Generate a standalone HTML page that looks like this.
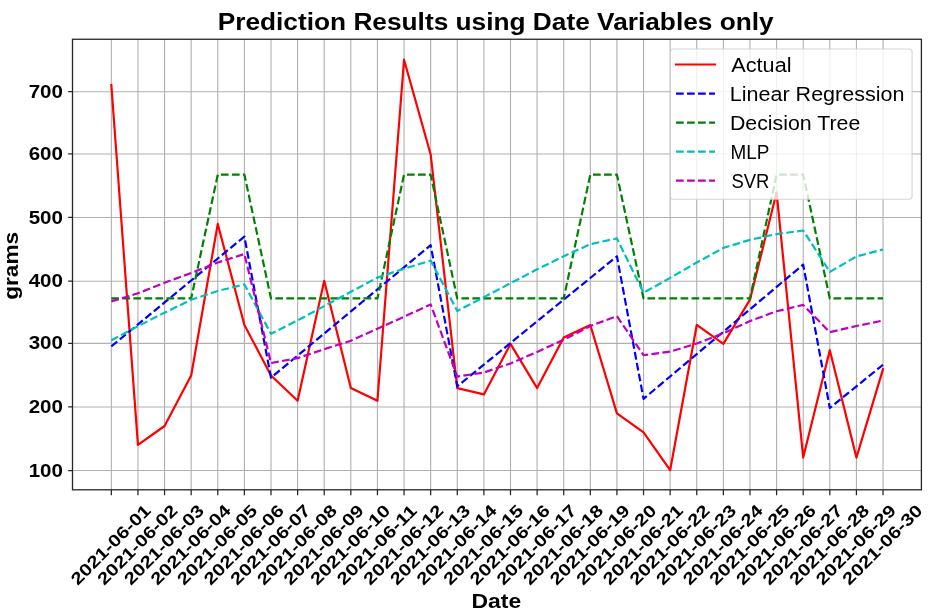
<!DOCTYPE html><html><head><meta charset="utf-8"><style>html,body{margin:0;padding:0;background:#fff;overflow:hidden}#w{width:948px;height:616px;will-change:transform}svg{display:block}</style></head><body><div id="w"><svg width="948" height="616" viewBox="0 0 948 616">
<rect x="0" y="0" width="948" height="616" fill="#fff"/>
<defs><clipPath id="ax"><rect x="72.5" y="39.25" width="848.9" height="450.55"/></clipPath></defs>
<path d="M111.34 39.25V489.8 M137.95 39.25V489.8 M164.56 39.25V489.8 M191.17 39.25V489.8 M217.78 39.25V489.8 M244.39 39.25V489.8 M271.00 39.25V489.8 M297.61 39.25V489.8 M324.22 39.25V489.8 M350.83 39.25V489.8 M377.44 39.25V489.8 M404.05 39.25V489.8 M430.66 39.25V489.8 M457.27 39.25V489.8 M483.88 39.25V489.8 M510.49 39.25V489.8 M537.10 39.25V489.8 M563.71 39.25V489.8 M590.32 39.25V489.8 M616.93 39.25V489.8 M643.54 39.25V489.8 M670.15 39.25V489.8 M696.76 39.25V489.8 M723.37 39.25V489.8 M749.98 39.25V489.8 M776.59 39.25V489.8 M803.20 39.25V489.8 M829.81 39.25V489.8 M856.42 39.25V489.8 M883.03 39.25V489.8 M72.5 470.53H921.4 M72.5 406.95H921.4 M72.5 343.36H921.4 M72.5 281.24H921.4 M72.5 217.46H921.4 M72.5 153.97H921.4 M72.5 91.73H921.4" stroke="#b0b0b0" stroke-width="1.11" fill="none"/>
<g clip-path="url(#ax)" fill="none" stroke-width="2.20" stroke-linejoin="round">
<polyline points="111.34,84.98 137.95,444.94 164.56,426.00 191.17,375.48 217.78,223.91 244.39,324.96 271.00,375.48 297.61,400.74 324.22,280.75 350.83,388.11 377.44,400.74 404.05,59.72 430.66,154.44 457.27,388.11 483.88,394.42 510.49,343.90 537.10,388.11 563.71,337.59 590.32,324.96 616.93,413.37 643.54,432.31 670.15,470.20 696.76,324.96 723.37,343.90 749.98,299.69 776.59,192.34 803.20,457.57 829.81,350.22 856.42,457.57 883.03,369.16" stroke="#ff0000" stroke-linecap="square"/>
<polyline points="111.34,346.43 137.95,324.45 164.56,302.47 191.17,280.50 217.78,258.52 244.39,236.54 271.00,377.69 297.61,355.61 324.22,333.52 350.83,311.44 377.44,289.36 404.05,267.28 430.66,245.19 457.27,386.34 483.88,364.67 510.49,343.00 537.10,321.32 563.71,299.65 590.32,277.98 616.93,256.31 643.54,398.84 670.15,376.47 696.76,354.09 723.37,331.71 749.98,309.34 776.59,286.96 803.20,264.58 829.81,408.00 856.42,386.37 883.03,364.74" stroke="#0000ff" stroke-dasharray="7.7,3.33"/>
<polyline points="111.34,298.43 137.95,298.43 164.56,298.43 191.17,298.43 217.78,174.65 244.39,174.65 271.00,298.43 297.61,298.43 324.22,298.43 350.83,298.43 377.44,298.43 404.05,174.65 430.66,174.65 457.27,298.43 483.88,298.43 510.49,298.43 537.10,298.43 563.71,298.43 590.32,174.65 616.93,174.65 643.54,298.43 670.15,298.43 696.76,298.43 723.37,298.43 749.98,298.43 776.59,174.65 803.20,174.65 829.81,298.43 856.42,298.43 883.03,298.43" stroke="#008000" stroke-dasharray="7.7,3.33"/>
<polyline points="111.34,340.30 137.95,326.22 164.56,312.64 191.17,299.82 217.78,290.92 244.39,284.41 271.00,333.80 297.61,320.41 324.22,306.14 350.83,291.80 377.44,277.59 404.05,268.69 430.66,260.60 457.27,310.94 483.88,297.11 510.49,283.28 537.10,269.32 563.71,256.31 590.32,244.12 616.93,238.44 643.54,292.75 670.15,277.91 696.76,262.50 723.37,247.91 749.98,239.83 776.59,234.08 803.20,230.48 829.81,271.91 856.42,256.50 883.03,249.49" stroke="#00bfbf" stroke-dasharray="7.7,3.33"/>
<polyline points="111.34,301.40 137.95,293.32 164.56,282.77 191.17,272.98 217.78,262.50 244.39,254.04 271.00,363.04 297.61,358.11 324.22,349.21 350.83,340.74 377.44,328.74 404.05,316.75 430.66,304.43 457.27,376.61 483.88,372.51 510.49,363.48 537.10,351.92 563.71,339.80 590.32,326.03 616.93,316.18 643.54,355.21 670.15,351.61 696.76,343.52 723.37,333.29 749.98,321.10 776.59,311.25 803.20,304.94 829.81,332.22 856.42,326.03 883.03,320.53" stroke="#bf00bf" stroke-dasharray="7.7,3.33"/>
</g>
<rect x="72.5" y="39.25" width="848.9" height="450.55" fill="none" stroke="#262626" stroke-width="1.3"/>
<path d="M111.34 489.8v5.4 M137.95 489.8v5.4 M164.56 489.8v5.4 M191.17 489.8v5.4 M217.78 489.8v5.4 M244.39 489.8v5.4 M271.00 489.8v5.4 M297.61 489.8v5.4 M324.22 489.8v5.4 M350.83 489.8v5.4 M377.44 489.8v5.4 M404.05 489.8v5.4 M430.66 489.8v5.4 M457.27 489.8v5.4 M483.88 489.8v5.4 M510.49 489.8v5.4 M537.10 489.8v5.4 M563.71 489.8v5.4 M590.32 489.8v5.4 M616.93 489.8v5.4 M643.54 489.8v5.4 M670.15 489.8v5.4 M696.76 489.8v5.4 M723.37 489.8v5.4 M749.98 489.8v5.4 M776.59 489.8v5.4 M803.20 489.8v5.4 M829.81 489.8v5.4 M856.42 489.8v5.4 M883.03 489.8v5.4 M72.5 470.53h-4.3 M72.5 406.95h-4.3 M72.5 343.36h-4.3 M72.5 281.24h-4.3 M72.5 217.46h-4.3 M72.5 153.97h-4.3 M72.5 91.73h-4.3" stroke="#262626" stroke-width="1.25" fill="none"/>
<text x="63.0" y="476.60" text-anchor="end" font-family="Liberation Sans" font-weight="bold" font-size="18" textLength="34.3" lengthAdjust="spacingAndGlyphs">100</text>
<text x="63.0" y="413.02" text-anchor="end" font-family="Liberation Sans" font-weight="bold" font-size="18" textLength="34.3" lengthAdjust="spacingAndGlyphs">200</text>
<text x="63.0" y="349.43" text-anchor="end" font-family="Liberation Sans" font-weight="bold" font-size="18" textLength="34.3" lengthAdjust="spacingAndGlyphs">300</text>
<text x="63.0" y="287.31" text-anchor="end" font-family="Liberation Sans" font-weight="bold" font-size="18" textLength="34.3" lengthAdjust="spacingAndGlyphs">400</text>
<text x="63.0" y="223.53" text-anchor="end" font-family="Liberation Sans" font-weight="bold" font-size="18" textLength="34.3" lengthAdjust="spacingAndGlyphs">500</text>
<text x="63.0" y="160.04" text-anchor="end" font-family="Liberation Sans" font-weight="bold" font-size="18" textLength="34.3" lengthAdjust="spacingAndGlyphs">600</text>
<text x="63.0" y="97.80" text-anchor="end" font-family="Liberation Sans" font-weight="bold" font-size="18" textLength="34.3" lengthAdjust="spacingAndGlyphs">700</text>
<text transform="translate(110.54,544.6) rotate(-45)" x="0" y="6" text-anchor="middle" font-family="Liberation Sans" font-weight="bold" font-size="17" textLength="105" lengthAdjust="spacingAndGlyphs">2021-06-01</text>
<text transform="translate(137.15,544.6) rotate(-45)" x="0" y="6" text-anchor="middle" font-family="Liberation Sans" font-weight="bold" font-size="17" textLength="105" lengthAdjust="spacingAndGlyphs">2021-06-02</text>
<text transform="translate(163.76,544.6) rotate(-45)" x="0" y="6" text-anchor="middle" font-family="Liberation Sans" font-weight="bold" font-size="17" textLength="105" lengthAdjust="spacingAndGlyphs">2021-06-03</text>
<text transform="translate(190.37,544.6) rotate(-45)" x="0" y="6" text-anchor="middle" font-family="Liberation Sans" font-weight="bold" font-size="17" textLength="105" lengthAdjust="spacingAndGlyphs">2021-06-04</text>
<text transform="translate(216.98,544.6) rotate(-45)" x="0" y="6" text-anchor="middle" font-family="Liberation Sans" font-weight="bold" font-size="17" textLength="105" lengthAdjust="spacingAndGlyphs">2021-06-05</text>
<text transform="translate(243.59,544.6) rotate(-45)" x="0" y="6" text-anchor="middle" font-family="Liberation Sans" font-weight="bold" font-size="17" textLength="105" lengthAdjust="spacingAndGlyphs">2021-06-06</text>
<text transform="translate(270.20,544.6) rotate(-45)" x="0" y="6" text-anchor="middle" font-family="Liberation Sans" font-weight="bold" font-size="17" textLength="105" lengthAdjust="spacingAndGlyphs">2021-06-07</text>
<text transform="translate(296.81,544.6) rotate(-45)" x="0" y="6" text-anchor="middle" font-family="Liberation Sans" font-weight="bold" font-size="17" textLength="105" lengthAdjust="spacingAndGlyphs">2021-06-08</text>
<text transform="translate(323.42,544.6) rotate(-45)" x="0" y="6" text-anchor="middle" font-family="Liberation Sans" font-weight="bold" font-size="17" textLength="105" lengthAdjust="spacingAndGlyphs">2021-06-09</text>
<text transform="translate(350.03,544.6) rotate(-45)" x="0" y="6" text-anchor="middle" font-family="Liberation Sans" font-weight="bold" font-size="17" textLength="105" lengthAdjust="spacingAndGlyphs">2021-06-10</text>
<text transform="translate(376.64,544.6) rotate(-45)" x="0" y="6" text-anchor="middle" font-family="Liberation Sans" font-weight="bold" font-size="17" textLength="105" lengthAdjust="spacingAndGlyphs">2021-06-11</text>
<text transform="translate(403.25,544.6) rotate(-45)" x="0" y="6" text-anchor="middle" font-family="Liberation Sans" font-weight="bold" font-size="17" textLength="105" lengthAdjust="spacingAndGlyphs">2021-06-12</text>
<text transform="translate(429.86,544.6) rotate(-45)" x="0" y="6" text-anchor="middle" font-family="Liberation Sans" font-weight="bold" font-size="17" textLength="105" lengthAdjust="spacingAndGlyphs">2021-06-13</text>
<text transform="translate(456.47,544.6) rotate(-45)" x="0" y="6" text-anchor="middle" font-family="Liberation Sans" font-weight="bold" font-size="17" textLength="105" lengthAdjust="spacingAndGlyphs">2021-06-14</text>
<text transform="translate(483.08,544.6) rotate(-45)" x="0" y="6" text-anchor="middle" font-family="Liberation Sans" font-weight="bold" font-size="17" textLength="105" lengthAdjust="spacingAndGlyphs">2021-06-15</text>
<text transform="translate(509.69,544.6) rotate(-45)" x="0" y="6" text-anchor="middle" font-family="Liberation Sans" font-weight="bold" font-size="17" textLength="105" lengthAdjust="spacingAndGlyphs">2021-06-16</text>
<text transform="translate(536.30,544.6) rotate(-45)" x="0" y="6" text-anchor="middle" font-family="Liberation Sans" font-weight="bold" font-size="17" textLength="105" lengthAdjust="spacingAndGlyphs">2021-06-17</text>
<text transform="translate(562.91,544.6) rotate(-45)" x="0" y="6" text-anchor="middle" font-family="Liberation Sans" font-weight="bold" font-size="17" textLength="105" lengthAdjust="spacingAndGlyphs">2021-06-18</text>
<text transform="translate(589.52,544.6) rotate(-45)" x="0" y="6" text-anchor="middle" font-family="Liberation Sans" font-weight="bold" font-size="17" textLength="105" lengthAdjust="spacingAndGlyphs">2021-06-19</text>
<text transform="translate(616.13,544.6) rotate(-45)" x="0" y="6" text-anchor="middle" font-family="Liberation Sans" font-weight="bold" font-size="17" textLength="105" lengthAdjust="spacingAndGlyphs">2021-06-20</text>
<text transform="translate(642.74,544.6) rotate(-45)" x="0" y="6" text-anchor="middle" font-family="Liberation Sans" font-weight="bold" font-size="17" textLength="105" lengthAdjust="spacingAndGlyphs">2021-06-21</text>
<text transform="translate(669.35,544.6) rotate(-45)" x="0" y="6" text-anchor="middle" font-family="Liberation Sans" font-weight="bold" font-size="17" textLength="105" lengthAdjust="spacingAndGlyphs">2021-06-22</text>
<text transform="translate(695.96,544.6) rotate(-45)" x="0" y="6" text-anchor="middle" font-family="Liberation Sans" font-weight="bold" font-size="17" textLength="105" lengthAdjust="spacingAndGlyphs">2021-06-23</text>
<text transform="translate(722.57,544.6) rotate(-45)" x="0" y="6" text-anchor="middle" font-family="Liberation Sans" font-weight="bold" font-size="17" textLength="105" lengthAdjust="spacingAndGlyphs">2021-06-24</text>
<text transform="translate(749.18,544.6) rotate(-45)" x="0" y="6" text-anchor="middle" font-family="Liberation Sans" font-weight="bold" font-size="17" textLength="105" lengthAdjust="spacingAndGlyphs">2021-06-25</text>
<text transform="translate(775.79,544.6) rotate(-45)" x="0" y="6" text-anchor="middle" font-family="Liberation Sans" font-weight="bold" font-size="17" textLength="105" lengthAdjust="spacingAndGlyphs">2021-06-26</text>
<text transform="translate(802.40,544.6) rotate(-45)" x="0" y="6" text-anchor="middle" font-family="Liberation Sans" font-weight="bold" font-size="17" textLength="105" lengthAdjust="spacingAndGlyphs">2021-06-27</text>
<text transform="translate(829.01,544.6) rotate(-45)" x="0" y="6" text-anchor="middle" font-family="Liberation Sans" font-weight="bold" font-size="17" textLength="105" lengthAdjust="spacingAndGlyphs">2021-06-28</text>
<text transform="translate(855.62,544.6) rotate(-45)" x="0" y="6" text-anchor="middle" font-family="Liberation Sans" font-weight="bold" font-size="17" textLength="105" lengthAdjust="spacingAndGlyphs">2021-06-29</text>
<text transform="translate(882.23,544.6) rotate(-45)" x="0" y="6" text-anchor="middle" font-family="Liberation Sans" font-weight="bold" font-size="17" textLength="105" lengthAdjust="spacingAndGlyphs">2021-06-30</text>
<text x="217.7" y="29.8" font-family="Liberation Sans" font-weight="bold" font-size="23" textLength="556.0" lengthAdjust="spacingAndGlyphs">Prediction Results using Date Variables only</text>
<text x="471.55" y="607.8" font-family="Liberation Sans" font-weight="bold" font-size="20" textLength="49.65" lengthAdjust="spacingAndGlyphs">Date</text>
<text transform="translate(17.9,299.8) rotate(-90)" x="0" y="0" font-family="Liberation Sans" font-weight="bold" font-size="20" textLength="68.0" lengthAdjust="spacingAndGlyphs">grams</text>
<rect x="670.5" y="49.0" width="241.6" height="150.3" rx="3" ry="3" fill="#fff" fill-opacity="0.8" stroke="#cccccc" stroke-opacity="0.8" stroke-width="1.11"/>
<path d="M676 64.50H715" stroke="#ff0000" stroke-width="2.2" stroke-linecap="square" fill="none"/>
<text x="731.3" y="71.50" font-family="Liberation Sans" font-size="20" textLength="60.2" lengthAdjust="spacingAndGlyphs">Actual</text>
<path d="M676 93.55H715" stroke="#0000ff" stroke-width="2.2" stroke-dasharray="7.7,3.33" fill="none"/>
<text x="729.8" y="100.55" font-family="Liberation Sans" font-size="20" textLength="174.7" lengthAdjust="spacingAndGlyphs">Linear Regression</text>
<path d="M676 122.60H715" stroke="#008000" stroke-width="2.2" stroke-dasharray="7.7,3.33" fill="none"/>
<text x="729.9" y="129.60" font-family="Liberation Sans" font-size="20" textLength="130.4" lengthAdjust="spacingAndGlyphs">Decision Tree</text>
<path d="M676 151.65H715" stroke="#00bfbf" stroke-width="2.2" stroke-dasharray="7.7,3.33" fill="none"/>
<text x="730.4" y="158.65" font-family="Liberation Sans" font-size="20" textLength="38.9" lengthAdjust="spacingAndGlyphs">MLP</text>
<path d="M676 180.70H715" stroke="#bf00bf" stroke-width="2.2" stroke-dasharray="7.7,3.33" fill="none"/>
<text x="731.4" y="187.70" font-family="Liberation Sans" font-size="20" textLength="37.96" lengthAdjust="spacingAndGlyphs">SVR</text>
</svg></div></body></html>
